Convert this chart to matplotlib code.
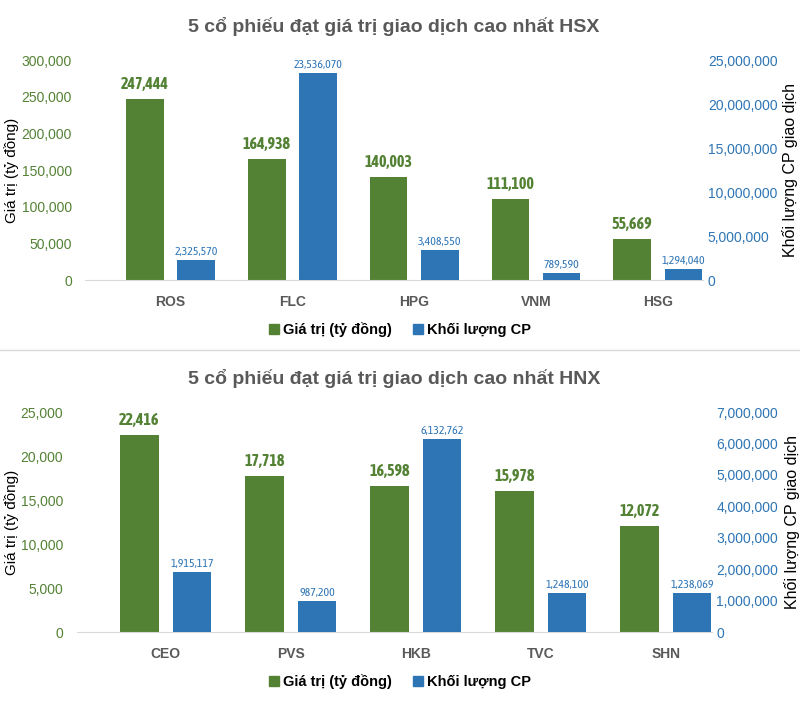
"""HSX / HNX top 5 co phieu - gia tri va khoi luong giao dich"""
import matplotlib
matplotlib.use("Agg")
import matplotlib.pyplot as plt
from matplotlib import font_manager
from matplotlib.patches import Patch
from matplotlib.ticker import FuncFormatter
import numpy as np

# --- data ---
hsx_codes = ["ROS", "FLC", "HPG", "VNM", "HSG"]
hsx_value = [247444, 164938, 140003, 111100, 55669]
hsx_volume = [2325570, 23536070, 3408550, 789590, 1294040]

hnx_codes = ["CEO", "PVS", "HKB", "TVC", "SHN"]
hnx_value = [22416, 17718, 16598, 15978, 12072]
hnx_volume = [1915117, 987200, 6132762, 1248100, 1238069]

GREEN = "#548235"
BLUE = "#2E75B6"
GRAY = "#595959"

# condensed font (with a bold face) if one is around, otherwise Liberation Sans
NARROW = "Liberation Sans"
bold_names = {f.name for f in font_manager.fontManager.ttflist
              if f.weight in ("bold", 700) or f.weight == 700}
for f in sorted(font_manager.fontManager.ttflist, key=lambda f: f.name):
    if ("Narrow" in f.name or "Condensed" in f.name) and f.name in bold_names:
        NARROW = f.name
        break
plt.rcParams["font.family"] = ["Liberation Sans", "DejaVu Sans"]

fmt = FuncFormatter(lambda v, p: f"{v:,.0f}")
W, H = 800, 704


def draw_panel(fig, rect, xlim, title, codes, value, volume, vmax, vstep, qmax, qstep,
               legend_y, lpad, rpad, lab_x):
    ax = fig.add_axes(rect)
    ax2 = ax.twinx()
    x = np.arange(len(codes))
    w = 0.31
    gb = ax.bar(x - 0.21, value, width=w, color=GREEN, zorder=2)
    bb = ax2.bar(x + 0.21, volume, width=w, color=BLUE, zorder=2)

    for r, v in zip(gb, value):
        ax.annotate(f"{v:,}", (r.get_x() + r.get_width() / 2, v), xytext=(0, 5),
                    textcoords="offset points", ha="center", va="bottom",
                    fontsize=11.5, fontweight="bold", color=GREEN, family=NARROW)
    for r, v in zip(bb, volume):
        ax2.annotate(f"{v:,}", (r.get_x() + r.get_width() / 2, v), xytext=(0, 2),
                     textcoords="offset points", ha="center", va="bottom",
                     fontsize=8.5, color=BLUE, family=NARROW)

    ax.set_xlim(*xlim)
    ax.set_ylim(0, vmax)
    ax.set_yticks(np.arange(0, vmax + 1, vstep))
    ax2.set_ylim(0, qmax)
    ax2.set_yticks(np.arange(0, qmax + 1, qstep))
    ax.yaxis.set_major_formatter(fmt)
    ax2.yaxis.set_major_formatter(fmt)

    for a in (ax, ax2):
        for s in a.spines.values():
            s.set_visible(False)
        a.tick_params(length=0)
    ax.spines["bottom"].set_visible(True)
    ax.spines["bottom"].set_color("#d9d9d9")

    ax.set_xticks(x)
    ax.set_xticklabels(codes, fontsize=10, fontweight="bold", color=GRAY)
    ax.tick_params(axis="x", pad=11)
    ax.tick_params(axis="y", labelsize=10, labelcolor=GREEN, pad=lpad)
    ax2.tick_params(axis="y", labelsize=10, labelcolor=BLUE, pad=rpad)
    ax.set_title(title, fontsize=14, fontweight="bold", color=GRAY, pad=20)

    ymid = rect[1] + rect[3] / 2
    fig.text(12 / W, ymid, "Giá trị (tỷ đồng)", rotation=90, fontsize=11,
             ha="center", va="center")
    fig.text(lab_x / W, ymid, "Khối lượng CP giao dịch", rotation=90, fontsize=11.5,
             ha="center", va="center")

    handles = [Patch(color=GREEN), Patch(color=BLUE)]
    fig.legend(handles, ["Giá trị (tỷ đồng)", "Khối lượng CP"], loc="center",
               bbox_to_anchor=(0.5, legend_y), ncol=2, frameon=False,
               handlelength=0.7, handleheight=0.7, handletextpad=0.3,
               columnspacing=1.4, prop={"size": 10.5, "weight": "bold"})
    return ax, ax2


fig = plt.figure(figsize=(W / 100, H / 100), dpi=100)

draw_panel(fig, [85 / W, 1 - 280 / H, 618 / W, 220 / H], (-0.70, 4.37),
           "5 cổ phiếu đạt giá trị giao dịch cao nhất HSX",
           hsx_codes, hsx_value, hsx_volume, 300000, 50000, 25000000, 5000000,
           1 - 330 / H, 9.5, 3.5, 790)

draw_panel(fig, [77 / W, 1 - 632 / H, 635 / W, 220 / H], (-0.71, 4.37),
           "5 cổ phiếu đạt giá trị giao dịch cao nhất HNX",
           hnx_codes, hnx_value, hnx_volume, 25000, 5000, 7000000, 1000000,
           1 - 682 / H, 10, 3, 792)

# separator between the two charts
fig.add_artist(plt.Line2D([0, 1], [1 - 350 / H] * 2, color="#d9d9d9", linewidth=1))

fig.savefig("out.png", dpi=100)
